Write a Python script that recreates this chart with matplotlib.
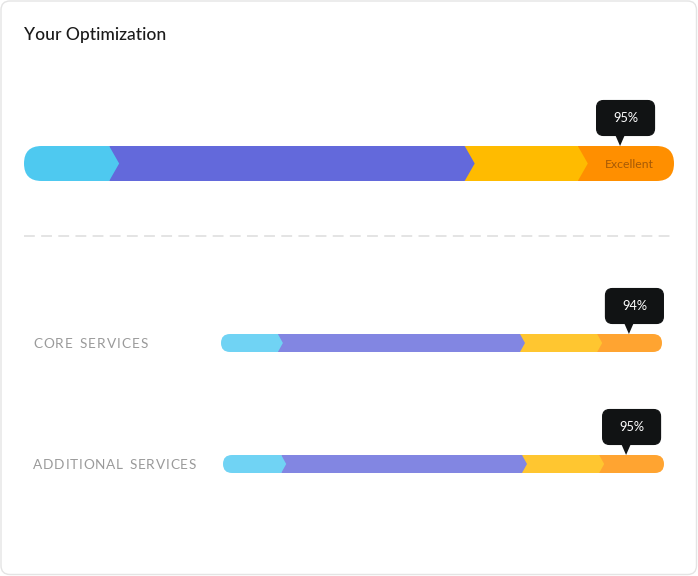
import matplotlib
matplotlib.use("Agg")
import matplotlib.pyplot as plt
from matplotlib.patches import FancyBboxPatch, Polygon

# ---------------- data ----------------
title = "Your Optimization"
bar_names = ["", "CORE SERVICES", "ADDITIONAL SERVICES"]
# segment boundaries in % of bar length (cyan, purple, yellow, orange)
seg_ends = [
    [13.1, 67.8, 85.2, 100.0],
    [12.9, 67.8, 85.3, 100.0],
    [13.2, 67.8, 85.3, 100.0],
]
marker_pos = [91.7, 92.5, 91.4]          # pointer position, % of bar
score_labels = ["95%", "94%", "95%"]
main_seg_text = "Excellent"

main_colors = ["#4ec9f0", "#6369db", "#ffbb00", "#ff8f00"]
sub_colors = ["#70d3f4", "#8286e2", "#ffc630", "#ffa431"]

# ---------------- layout (pixels) ----------------
W, H = 698, 576
DPI = 100
FONT = "Lato"
# (x0, y_top, width, height, chevron_px)
bar_boxes = [(24, 146, 650, 35, 10), (221, 334, 441, 18, 5), (223, 455, 441, 18, 5)]
label_widths = [0, 115, 163]

fig = plt.figure(figsize=(W / DPI, H / DPI), dpi=DPI)
fig.patch.set_facecolor("white")
bg = fig.add_axes([0, 0, 1, 1])
bg.set_xlim(0, W)
bg.set_ylim(H, 0)
bg.axis("off")

card = FancyBboxPatch((1, 1), W - 2.5, H - 2.5,
                      boxstyle="round,pad=0,rounding_size=9",
                      facecolor="white", edgecolor="#e4e4e4", linewidth=1.0)
bg.add_patch(card)

fig.canvas.draw()
renderer = fig.canvas.get_renderer()


def fit_text(ax, x, y, s, target_w, **kw):
    t = ax.text(x, y, s, **kw)
    fs = t.get_fontsize()
    w = t.get_window_extent(renderer).width
    t.set_fontsize(fs * target_w / w)
    return t


fit_text(bg, 24, 35, title, 142, fontsize=12, family=FONT, color="#1b1b1b",
         va="center", ha="left", fontweight="medium")

# dashed divider
bg.plot([24, 674], [235.5, 235.5], color="#e2e2e2", lw=1.3,
        dashes=(6, 3.5), solid_capstyle="butt")


def spaced_text(ax, x, y, s, target_w, **kw):
    widths = []
    arts = []
    for ch in s:
        if ch == " ":
            t2 = ax.text(0, 0, "I", **kw)
            w = t2.get_window_extent(renderer).width * 1.3
            t2.remove()
            arts.append(None)
        else:
            t = ax.text(x, y, ch, ha="left", va="center", **kw)
            w = t.get_window_extent(renderer).width
            arts.append(t)
        widths.append(w)
    spacing = (target_w - sum(widths)) / (len(s) - 1)
    cx = x
    for a, w in zip(arts, widths):
        if a is not None:
            a.set_x(cx)
        cx += w + spacing


for bi, (x0, yt, wpx, hpx, chev) in enumerate(bar_boxes):
    ax = fig.add_axes([x0 / W, 1 - (yt + hpx) / H, wpx / W, hpx / H])
    k = 100.0 / wpx                      # data units per pixel
    h = hpx * k
    ax.set_xlim(0, 100)
    ax.set_ylim(0, h)
    ax.axis("off")
    colors = main_colors if bi == 0 else sub_colors

    clip = FancyBboxPatch((0, 0), 100, h,
                          boxstyle=f"round,pad=0,rounding_size={h / 2}",
                          transform=ax.transData, facecolor="none", edgecolor="none")
    starts = [0.0] + seg_ends[bi][:-1]
    for i, (s, e) in enumerate(zip(starts, seg_ends[bi])):
        t = chev * k if i < len(starts) - 1 else 0
        pts = [(s, 0), (e, 0), (e + t, h / 2), (e, h), (s, h)]
        poly = Polygon(pts, closed=True, facecolor=colors[i], edgecolor="none",
                       zorder=10 - i)
        ax.add_patch(poly)
        poly.set_clip_path(clip)

    if bi == 0:
        ex = (seg_ends[0][2] + seg_ends[0][3]) / 2 + 3 * k
        ax.text(ex, h / 2 - 0.5 * k, main_seg_text, ha="center", va="center",
                fontsize=8.8, family=FONT, color="#a65a06", zorder=20)

    # tooltip
    m = marker_pos[bi]
    bw, bh, gap, off = 58, 35, 10.5, 5.5
    bx = m + (off - bw / 2) * k
    by = h + gap * k
    tip = FancyBboxPatch((bx, by), bw * k, bh * k,
                         boxstyle=f"round,pad=0,rounding_size={7 * k}",
                         facecolor="#111314", edgecolor="#111314", lw=0.8,
                         clip_on=False, zorder=30)
    ax.add_patch(tip)
    tri = Polygon([(m - 5 * k, by + 1 * k), (m + 5 * k, by + 1 * k), (m, h)],
                  closed=True, facecolor="#111314", edgecolor="none",
                  clip_on=False, zorder=31)
    ax.add_patch(tri)
    ax.text(bx + bw * k / 2, by + bh * k / 2, score_labels[bi], ha="center",
            va="center", fontsize=9.2, family=FONT, color="white", zorder=32,
            clip_on=False)

    if bar_names[bi]:
        spaced_text(bg, 33, yt + hpx / 2 + 1.2, bar_names[bi], label_widths[bi],
                    fontsize=9.8, family=FONT, color="#9a9a9a")

fig.savefig("out.png", dpi=DPI, facecolor="white")
